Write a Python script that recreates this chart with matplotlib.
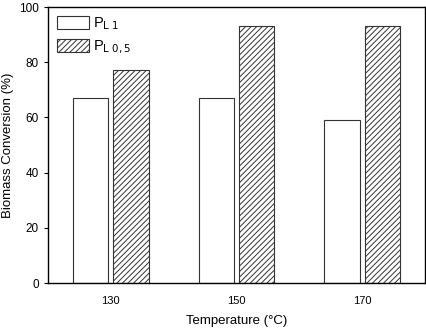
import matplotlib
matplotlib.use("Agg")
import matplotlib.pyplot as plt
import numpy as np

plt.rcParams['font.family'] = ['Liberation Sans', 'DejaVu Sans']
plt.rcParams['hatch.linewidth'] = 0.7

categories = ['130', '150', '170']
p_l1 = [67, 67, 59]
p_l05 = [77, 93, 93]
labels = [r'P$_{\mathrm{L\ 1}}$', r'P$_{\mathrm{L\ 0,5}}$']

fig = plt.figure(figsize=(4.27, 3.32), dpi=100)
ax = fig.add_axes([48/427, 1-283/332, (425-48)/427, (283-7)/332])

x = np.arange(len(categories))
w = 0.28
ax.bar(x - 0.16, p_l1, w, facecolor='white', edgecolor='#333333', linewidth=0.8, label=labels[0])
ax.bar(x + 0.16, p_l05, w, facecolor='white', edgecolor='#333333', linewidth=0.8, hatch='//////', label=labels[1])

ax.set_xlim(-0.5, 2.5)
ax.set_ylim(0, 100)
ax.set_yticks([0, 20, 40, 60, 80, 100])
ax.set_xticks(x)
ax.set_xticklabels(categories, fontsize=8)
ax.tick_params(axis='x', length=0, pad=9)
ax.tick_params(axis='y', labelsize=8.5, length=3, width=0.8, direction='out')
for s in ax.spines.values():
    s.set_linewidth(1.0)
ax.set_ylabel('Biomass Conversion (%)', fontsize=9.5, labelpad=4)
ax.set_xlabel('Temperature (°C)', fontsize=9.5, labelpad=7)

leg = ax.legend(loc='upper left', frameon=False, fontsize=10.5, handlelength=2.2, handleheight=1.0,
                borderaxespad=0.3, borderpad=0.3, labelspacing=0.45, handletextpad=0.3)

fig.savefig('out.png', dpi=100)
